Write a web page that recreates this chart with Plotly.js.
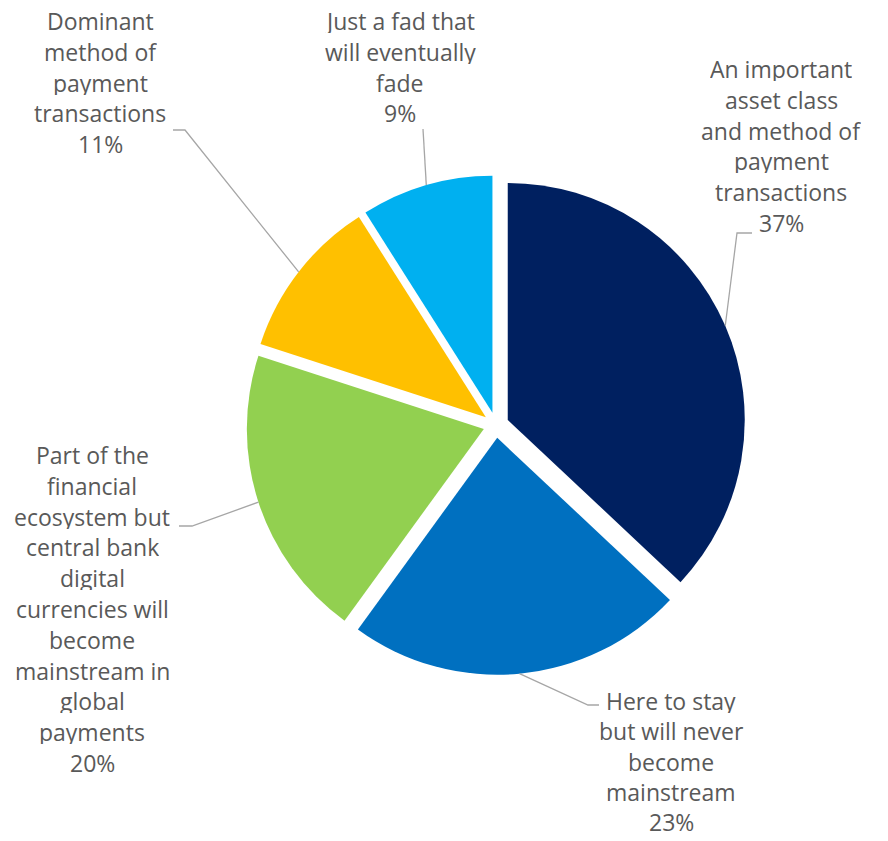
<!DOCTYPE html>
<html>
<head>
<meta charset="utf-8">
<script src="https://cdn.plot.ly/plotly-3.0.1.min.js"></script>
<style>html,body{margin:0;padding:0;background:#fff;}#chart{width:888px;height:841px;}</style>
</head>
<body>
<div id="chart"></div>
<script>
// ---- data ----
const categories = [
  "An important asset class and method of payment transactions",
  "Here to stay but will never become mainstream",
  "Part of the financial ecosystem but central bank digital currencies will become mainstream in global payments",
  "Dominant method of payment transactions",
  "Just a fad that will eventually fade"
];
const values = [37, 23, 20, 11, 9];
const labelLines = [
  ["An important", "asset class", "and method of", "payment", "transactions"],
  ["Here to stay", "but will never", "become", "mainstream"],
  ["Part of the", "financial", "ecosystem but", "central bank", "digital", "currencies will", "become", "mainstream in", "global", "payments"],
  ["Dominant", "method of", "payment", "transactions"],
  ["Just a fad that", "will eventually", "fade"]
];
const colors = ["#002060", "#0070C0", "#92D050", "#FFC000", "#00B0F0"];

// ---- layout constants (pixels) ----
const W = 888, H = 841;
const CX = 496, CY = 425, R = 237, PULL = 0.054;
const LINE_H = 30.8;
// label block: centre x, first line centre y, line spacing
const labelPos = [[781, 69, LINE_H], [671, 701, 30.3], [92, 455, LINE_H], [100, 21, LINE_H], [400, 21, LINE_H]];
// leader elbow points: [bend point, end point near text]
const leaders = [
  [[737, 233], [752, 233]],
  [[588, 705], [599, 705]],
  [[192, 526], [179, 526]],
  [[185, 130], [173, 130]],
  [[423, 129], [423, 129]]
];

const half = R * (1 + PULL);
const domain = {
  x: [(CX - half) / W, (CX + half) / W],
  y: [1 - (CY + half) / H, 1 - (CY - half) / H]
};
const px = x => x / W, py = y => 1 - y / H;

const total = values.reduce((a, b) => a + b, 0);
const shapes = [], annotations = [];
let cum = 0;
values.forEach((v, i) => {
  const th = (cum + v / 2) / total * 2 * Math.PI;
  cum += v;
  const dx = Math.sin(th), dy = -Math.cos(th);
  const ex = CX + (PULL * R + R) * dx, ey = CY + (PULL * R + R) * dy;
  const [b, e] = leaders[i];
  shapes.push({
    type: 'path', xref: 'paper', yref: 'paper',
    path: `M${px(ex)},${py(ey)} L${px(b[0])},${py(b[1])} L${px(e[0])},${py(e[1])}`,
    line: {color: '#A6A6A6', width: 1.3}
  });
  const lines = labelLines[i].concat([v + '%']);
  lines.forEach((t, k) => {
    annotations.push({
      xref: 'paper', yref: 'paper',
      x: px(labelPos[i][0]), y: py(labelPos[i][1] + k * labelPos[i][2]),
      xanchor: 'center', yanchor: 'middle',
      height: 24, borderpad: 0,
      text: t, showarrow: false,
      font: {family: 'Open Sans', size: 23, color: '#595959'}
    });
  });
});

Plotly.newPlot('chart', [{
  type: 'pie',
  labels: categories,
  values: values,
  sort: false,
  direction: 'clockwise',
  rotation: 0,
  pull: values.map(() => PULL),
  marker: {colors: colors, line: {width: 0}},
  textinfo: 'none',
  hoverinfo: 'none',
  showlegend: false,
  domain: domain
}], {
  width: W, height: H,
  margin: {l: 0, r: 0, t: 0, b: 0},
  paper_bgcolor: '#fff',
  showlegend: false,
  shapes: shapes,
  annotations: annotations
}, {displayModeBar: false, staticPlot: true});
</script>
</body>
</html>
